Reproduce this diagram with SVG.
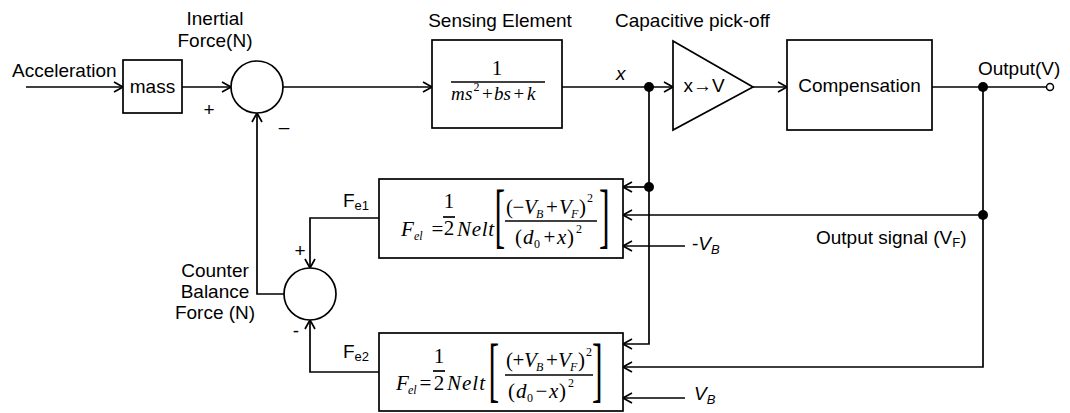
<svg xmlns="http://www.w3.org/2000/svg" width="1070" height="413" viewBox="0 0 1070 413">
<style>
.ln{stroke:#000;stroke-width:1.7;fill:none}
.box{fill:#fff;stroke:#000;stroke-width:1.7}
.t{font-family:"Liberation Sans",Arial,sans-serif;font-size:19px;fill:#000}
.sub{font-family:"Liberation Sans",Arial,sans-serif;font-size:13px;fill:#000}
.m{font-family:"Liberation Serif","Times New Roman",serif;font-size:21px;fill:#000}
.m19{font-family:"Liberation Serif","Times New Roman",serif;font-size:19px;fill:#000}
.ms{font-family:"Liberation Serif","Times New Roman",serif;font-size:12px;fill:#000}
.br{font-family:"Liberation Serif","Times New Roman",serif;font-size:71px;fill:#000}
.i{font-style:italic}
.c{text-anchor:middle}
.dot{fill:#000}
</style>
<defs>
<marker id="ah" markerUnits="userSpaceOnUse" markerWidth="14" markerHeight="14" viewBox="-11 -7 14 14" refX="0" refY="0" orient="auto">
<path d="M-9,-5 L0,0 L-9,5" fill="none" stroke="#000" stroke-width="1.7"/>
</marker>
</defs>
<rect width="1070" height="413" fill="#fff"/>

<g id="connectors">
<path class="ln" d="M26,87 H123" marker-end="url(#ah)"/>
<path class="ln" d="M182,87 H231" marker-end="url(#ah)"/>
<path class="ln" d="M283,87 H432" marker-end="url(#ah)"/>
<path class="ln" d="M562,87 H673" marker-end="url(#ah)"/>
<path class="ln" d="M753,87 H787" marker-end="url(#ah)"/>
<path class="ln" d="M932,87 H1047"/>
<path class="ln" d="M983,87 V367 H623" marker-end="url(#ah)"/>
<path class="ln" d="M983,215 H623" marker-end="url(#ah)"/>
<path class="ln" d="M649,87 V344 H623" marker-end="url(#ah)"/>
<path class="ln" d="M649,187 H623" marker-end="url(#ah)"/>
<path class="ln" d="M685,246 H623" marker-end="url(#ah)"/>
<path class="ln" d="M685,398 H623" marker-end="url(#ah)"/>
<path class="ln" d="M379,218 H310 V268" marker-end="url(#ah)"/>
<path class="ln" d="M379,372 H310 V320" marker-end="url(#ah)"/>
<path class="ln" d="M284,294 H257 V113" marker-end="url(#ah)"/>
<circle class="dot" cx="649" cy="87" r="5"/>
<circle class="dot" cx="983" cy="87" r="5"/>
<circle class="dot" cx="649" cy="187" r="5"/>
<circle class="dot" cx="983" cy="215" r="5"/>
</g>

<g id="input-label">
<text class="t" x="12" y="77">Acceleration</text>
</g>

<g id="mass">
<rect class="box" x="123" y="60" width="59" height="53"/>
<text class="t c" x="152.5" y="93">mass</text>
</g>

<g id="sum1">
<circle class="box" cx="257" cy="87" r="26"/>
<text class="t c" x="215" y="25">Inertial</text>
<text class="t c" x="215" y="47">Force(N)</text>
<text class="t c" x="209" y="116">+</text>
<text class="t c" x="284" y="133">–</text>
</g>

<g id="sensing">
<rect class="box" x="432" y="40" width="130" height="88"/>
<text class="t c" x="500" y="27">Sensing Element</text>
<text class="m c" x="497" y="75">1</text>
<line class="ln" x1="451" y1="82" x2="545" y2="82"/>
<text class="m19 i" x="451" y="100">m</text>
<text class="m19 i" x="465" y="100">s</text>
<text class="ms" x="473.5" y="91">2</text>
<text class="m19" x="482" y="100">+</text>
<text class="m19 i" x="494" y="100">b</text>
<text class="m19 i" x="503.5" y="100">s</text>
<text class="m19" x="513.5" y="100">+</text>
<text class="m19 i" x="527" y="100">k</text>
<text class="t i" x="616" y="80">x</text>
</g>

<g id="pickoff">
<path class="box" d="M673,41 L753,87 L673,130 Z"/>
<text class="t" x="615" y="27">Capacitive pick-off</text>
<text class="t c" x="704" y="92">x→V</text>
</g>

<g id="compensation">
<rect class="box" x="787" y="40" width="145" height="90"/>
<text class="t c" x="859.5" y="92">Compensation</text>
</g>

<g id="output">
<circle cx="1050" cy="87" r="3.5" fill="#fff" stroke="#000" stroke-width="1.5"/>
<text class="t" x="978" y="75">Output(V)</text>
<text class="t" x="816" y="244">Output signal (V<tspan class="sub" dy="3">F</tspan><tspan dy="-3">)</tspan></text>
</g>

<g id="bias-labels">
<text class="t" x="692" y="250">-<tspan class="i">V</tspan><tspan class="sub i" dy="4">B</tspan></text>
<text class="t" x="694" y="400"><tspan class="i">V</tspan><tspan class="sub i" dy="4">B</tspan></text>
</g>

<g id="fe1-box">
<rect class="box" x="379" y="179" width="244" height="79"/>
<text class="t" x="343" y="207">F<tspan class="sub" dy="3">e1</tspan></text>
<text class="m i" x="401" y="236">F</text>
<text class="ms i" x="414" y="240">el</text>
<text class="m" x="431.5" y="236">=</text>
<text class="m c" x="449" y="208">1</text>
<line class="ln" x1="443" y1="217" x2="455" y2="217"/>
<text class="m c" x="449" y="235">2</text>
<text class="m i" x="457" y="236" textLength="37" lengthAdjust="spacing">Nelt</text>
<text class="br" transform="translate(494.5,239) scale(0.45,1)">[</text>
<text class="m" x="506" y="214">(</text>
<text class="m" x="512.5" y="214">−</text>
<text class="m i" x="524" y="214">V</text>
<text class="ms i" x="536" y="218">B</text>
<text class="m" x="546" y="214">+</text>
<text class="m i" x="559" y="214">V</text>
<text class="ms i" x="571" y="218">F</text>
<text class="m" x="579" y="214">)</text>
<text class="ms" x="587" y="202">2</text>
<line class="ln" x1="505" y1="221" x2="597" y2="221"/>
<text class="m" x="515" y="244">(</text>
<text class="m i" x="523" y="244">d</text>
<text class="ms" x="534" y="248">0</text>
<text class="m" x="543.5" y="244">+</text>
<text class="m i" x="557" y="244">x</text>
<text class="m" x="567" y="244">)</text>
<text class="ms" x="576" y="233">2</text>
<text class="br" transform="translate(599,239) scale(0.45,1)">]</text>
</g>

<g id="fe2-box">
<rect class="box" x="379" y="333" width="244" height="78"/>
<text class="t" x="343" y="358">F<tspan class="sub" dy="3">e2</tspan></text>
<text class="m i" x="396" y="390">F</text>
<text class="ms i" x="408" y="394">el</text>
<text class="m" x="419.5" y="390">=</text>
<text class="m c" x="439" y="363">1</text>
<line class="ln" x1="433" y1="371" x2="445" y2="371"/>
<text class="m c" x="439" y="390">2</text>
<text class="m i" x="447" y="390" textLength="38" lengthAdjust="spacing">Nelt</text>
<text class="br" transform="translate(488.5,393) scale(0.45,1)">[</text>
<text class="m" x="506" y="367">(</text>
<text class="m" x="512.5" y="367">+</text>
<text class="m i" x="524" y="367">V</text>
<text class="ms i" x="536" y="371">B</text>
<text class="m" x="546" y="367">+</text>
<text class="m i" x="558" y="367">V</text>
<text class="ms i" x="570" y="371">F</text>
<text class="m" x="578" y="367">)</text>
<text class="ms" x="586" y="356">2</text>
<line class="ln" x1="505" y1="375" x2="593" y2="375"/>
<text class="m" x="508" y="398">(</text>
<text class="m i" x="516" y="398">d</text>
<text class="ms" x="527" y="402">0</text>
<text class="m" x="535.5" y="398">−</text>
<text class="m i" x="549" y="398">x</text>
<text class="m" x="559" y="398">)</text>
<text class="ms" x="568" y="387">2</text>
<text class="br" transform="translate(592,393) scale(0.45,1)">]</text>
</g>

<g id="sum2">
<circle class="box" cx="310" cy="294" r="26"/>
<text class="t c" x="300" y="257">+</text>
<text class="t c" x="296" y="337">-</text>
<text class="t c" x="215" y="277">Counter</text>
<text class="t c" x="215" y="298">Balance</text>
<text class="t c" x="215" y="319">Force (N)</text>
</g>
</svg>
